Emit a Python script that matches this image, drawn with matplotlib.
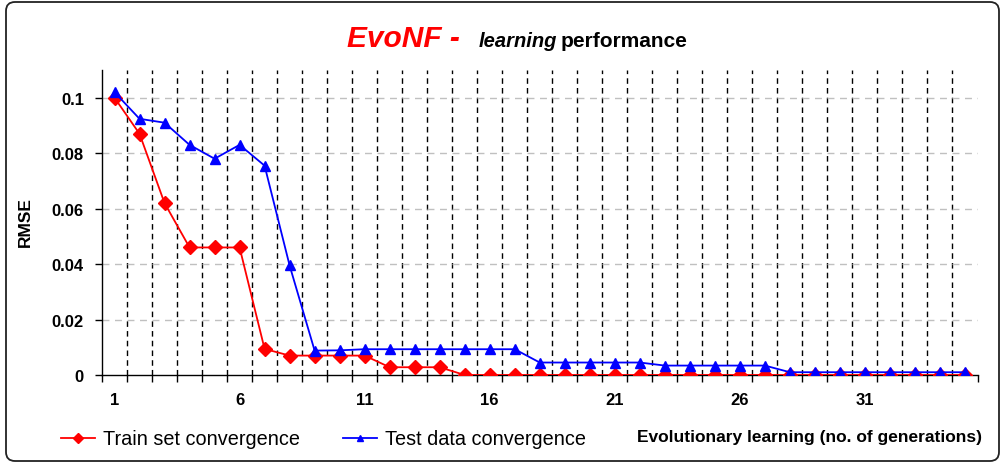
import numpy as np
import matplotlib
matplotlib.use("Agg")
import matplotlib.pyplot as plt
from matplotlib.patches import FancyBboxPatch
from matplotlib.transforms import IdentityTransform

plt.rcParams['font.family'] = ['Liberation Sans', 'DejaVu Sans']

# Données
generations = list(range(1, 36))
train_rmse = [0.100, 0.087, 0.062, 0.046, 0.046, 0.046, 0.0094, 0.007, 0.007, 0.007,
              0.007, 0.0028, 0.0028, 0.0028, 0, 0, 0, 0, 0, 0,
              0, 0, 0, 0, 0, 0, 0, 0, 0, 0,
              0, 0, 0, 0, 0]
test_rmse = [0.102, 0.0924, 0.091, 0.083, 0.078, 0.083, 0.0755, 0.0395, 0.0088, 0.0089,
             0.0093, 0.0093, 0.0093, 0.0093, 0.0093, 0.0093, 0.0093, 0.0045, 0.0045, 0.0045,
             0.0045, 0.0045, 0.0034, 0.0034, 0.0034, 0.0034, 0.0034, 0.001, 0.001, 0.001,
             0.001, 0.001, 0.001, 0.001, 0.001]
xtick_labels = ['1', '6', '11', '16', '21', '26', '31']
ytick_values = [0, 0.02, 0.04, 0.06, 0.08, 0.1]
ytick_labels = ['0', '0.02', '0.04', '0.06', '0.08', '0.1']

W, H = 1002, 464
fig = plt.figure(figsize=(W / 100, H / 100), dpi=100)

# cadre arrondi autour de la figure
frame = FancyBboxPatch((6, 2), 993, 459, boxstyle="round,pad=0,rounding_size=9",
                       transform=IdentityTransform(), facecolor='white',
                       edgecolor='#222222', linewidth=1.3, zorder=-10)
fig.patches.append(frame)

ax = fig.add_axes([102 / W, 1 - 376 / H, (977.5 - 102) / W, (376 - 71) / H])
n = len(generations)

# grille
for x in np.arange(1.5, n, 1.0):
    ax.axvline(x, color='black', linestyle=(0, (4, 3)), linewidth=1.0, zorder=1)
for y in ytick_values[1:]:
    ax.axhline(y, color='#c0c0c0', linestyle=(0, (5, 4)), linewidth=1.0, zorder=1)

ax.plot(generations, train_rmse, color='red', marker='D', markersize=7,
        linewidth=1.3, label='Train set convergence', zorder=3)
ax.plot(generations, test_rmse, color='blue', marker='^', markersize=6.5,
        linewidth=1.3, label='Test data convergence', zorder=4)

ax.set_xlim(0.5, n + 0.5)
ax.set_ylim(0, 0.11)

ax.set_xticks([int(t) for t in xtick_labels])
ax.set_xticklabels(xtick_labels, fontweight='bold', fontsize=12)
ax.set_xticks(np.arange(0.5, n + 1, 1.0), minor=True)
ax.tick_params(axis='x', which='major', length=0, pad=12)
ax.tick_params(axis='x', which='minor', length=5, width=1, direction='out')

ax.set_yticks(ytick_values)
ax.set_yticklabels(ytick_labels, fontweight='bold', fontsize=12)
ax.tick_params(axis='y', length=5, width=1, direction='out', pad=8)

for s in ['top', 'right']:
    ax.spines[s].set_visible(False)
ax.spines['left'].set_linewidth(1.0)
ax.spines['bottom'].set_linewidth(1.0)

# titre en plusieurs morceaux
ty = 1 - 47 / H
fig.text(347 / W, ty, 'EvoNF -', color='red', fontsize=21.5, fontweight='bold',
         fontstyle='italic', va='baseline')
fig.text(479 / W, ty, 'learning', color='black', fontsize=14.5, fontweight='bold',
         fontstyle='italic', va='baseline')
fig.text(561 / W, ty, 'performance', color='black', fontsize=15, fontweight='bold',
         va='baseline')

fig.text(25 / W, 1 - 222 / H, 'RMSE', rotation=90, fontsize=12.5, fontweight='bold',
         ha='center', va='center')
fig.text(982 / W, 1 - 438 / H, 'Evolutionary learning (no. of generations)',
         fontsize=12.5, fontweight='bold', ha='right', va='center')

fig.legend(loc='center left', bbox_to_anchor=(61 / W, 1 - 440 / H), ncol=2,
           frameon=False, fontsize=14.3, handlelength=1.7, handletextpad=0.4,
           columnspacing=2.2, borderpad=0, borderaxespad=0, markerscale=0.7)

fig.savefig('out.png', dpi=100)
